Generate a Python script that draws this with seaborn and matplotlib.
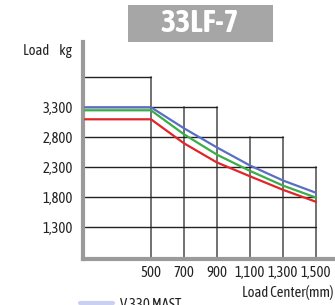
import numpy as np
import pandas as pd
import matplotlib
matplotlib.use("Agg")
from matplotlib import pyplot as plt
from matplotlib import font_manager
import seaborn as sns

sns.set_theme(style="white")

# prefer a narrow face (with a bold weight) like the original artwork
fonts = font_manager.fontManager.ttflist
narrow = {}
for f in fonts:
    if ("Condensed" in f.name or "Narrow" in f.name) and not any(
            w in f.name for w in ("Light", "Thin", "Black", "Medium")):
        w = f.weight if isinstance(f.weight, int) else 400
        narrow.setdefault(f.name, set()).add(w >= 600)
with_bold = sorted(n for n, ws in narrow.items() if True in ws)
if with_bold:
    family = [with_bold[0], "DejaVu Sans"]
elif narrow:
    family = [sorted(narrow)[0], "DejaVu Sans"]
else:
    family = ["Roboto", "DejaVu Sans"]
plt.rcParams["font.family"] = family

# data
load_center = [100, 500, 700, 900, 1100, 1300, 1500]
v330_mast = [3300, 3300, 2950, 2630, 2330, 2080, 1875]
mast_b = [3250, 3250, 2850, 2510, 2240, 1995, 1795]
mast_c = [3100, 3100, 2700, 2380, 2150, 1925, 1725]

x_ticks = [500, 700, 900, 1100, 1300, 1500]
x_tick_labels = ["500", "700", "900", "1,100", "1,300", "1,500"]
y_ticks = [1300, 1800, 2300, 2800, 3300]
y_tick_labels = ["1,300", "1,800", "2,300", "2,800", "3,300"]

# stepped grid of the load chart
v_lines = [500, 700, 900, 1100, 1300, 1500]
v_tops = [3800, 3300, 3300, 2800, 2800, 2300]
h_lines = [1300, 1800, 2300, 2800, 3300, 3800]
h_ends = [1500, 1500, 1500, 1300, 900, 500]

df = pd.DataFrame({
    "Load Center": load_center * 3,
    "Load": v330_mast + mast_b + mast_c,
    "Mast": ["V 330 MAST"] * 7 + ["B"] * 7 + ["C"] * 7,
})
palette = {"V 330 MAST": "#5a6ec4", "B": "#3aad48", "C": "#e0252b"}

fig = plt.figure(figsize=(3.35, 3.05), dpi=100)
ax = fig.add_axes([83 / 335, (305 - 258.7) / 305, (335 - 83) / 335, (258.7 - 42) / 305])
ax.set_xlim(88, 1615)
ax.set_ylim(777, 4388)

x0, y0 = 100, 777
for xv, top in zip(v_lines, v_tops):
    ax.plot([xv, xv], [y0, top], color="#666666", lw=1.3, zorder=1)
for yv, end in zip(h_lines, h_ends):
    ax.plot([x0, end], [yv, yv], color="#222222", lw=1.0, zorder=1)

sns.lineplot(data=df, x="Load Center", y="Load", hue="Mast", palette=palette,
             lw=1.6, legend=False, ax=ax, zorder=3)

for s in ["top", "right"]:
    ax.spines[s].set_visible(False)
for s in ["left", "bottom"]:
    ax.spines[s].set_color("#9a9a9a")
    ax.spines[s].set_linewidth(3.0)
    ax.spines[s].set_capstyle("projecting")

small = 10.5 if family[0] != "Roboto" else 8.8
ax.set_xticks(x_ticks)
ax.set_xticklabels(x_tick_labels)
ax.set_yticks(y_ticks)
ax.set_yticklabels(y_tick_labels)
ax.tick_params(length=0, labelsize=small, colors="#222222")
ax.tick_params(axis="x", pad=5.5)
ax.tick_params(axis="y", pad=7)
ax.set_xlabel("")
ax.set_ylabel("")

fig.text(72 / 335, 1 - 51 / 305, "Load     kg", ha="right", va="center", fontsize=small, color="#222222")
fig.text(333 / 335, 1 - 292 / 305, "Load Center(mm)", ha="right", va="center", fontsize=small, color="#222222")

# title box
fig.add_artist(plt.Rectangle((128 / 335, 1 - 42 / 305), 145 / 335, 37 / 305,
                             transform=fig.transFigure, color="#a6a6a6", lw=0))
fig.text(200 / 335, 1 - 23 / 305, "33LF-7", ha="center", va="center",
         fontsize=23 if family[0] != "Roboto" else 19,
         fontweight="bold", color="white")

# legend entry (cut off by the bottom edge, as in the source)
fig.add_artist(plt.Line2D([80 / 335, 113 / 335], [1 - 303 / 305, 1 - 303 / 305],
                          transform=fig.transFigure, color="#c9d0f2", lw=3))
fig.text(120 / 335, 1 - 298 / 305, "V 330 MAST", ha="left", va="top", fontsize=small, color="#222222")

fig.savefig("out.png", dpi=100)
